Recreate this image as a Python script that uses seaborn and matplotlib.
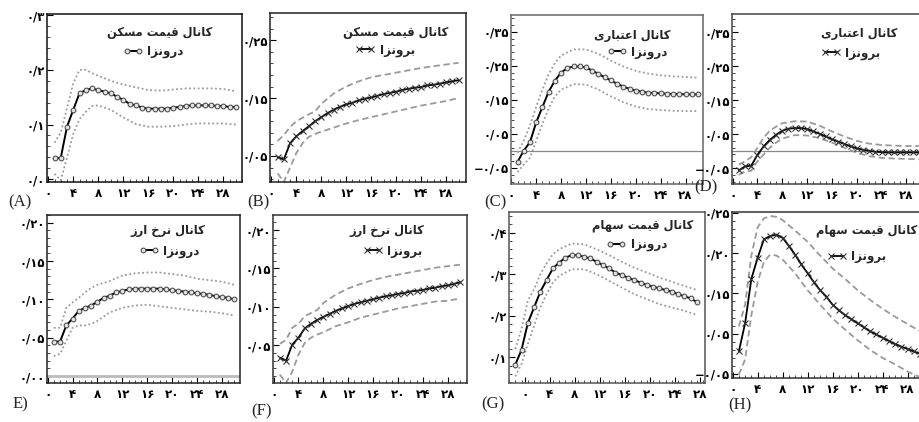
import numpy as np
import matplotlib
matplotlib.use("Agg")
import matplotlib.pyplot as plt
from matplotlib.ticker import MultipleLocator, AutoMinorLocator
import seaborn as sns

# ---------------- data ----------------
horizons = list(range(1, 31))
band_h = [1, 2, 3, 4, 5, 6, 7, 8, 10, 12, 14, 16, 18, 20, 22, 24, 26, 28, 30]

a_center = [0.039, 0.039, 0.096, 0.127, 0.157, 0.163, 0.166, 0.163, 0.160, 0.157, 0.151, 0.145, 0.138, 0.135, 0.131,
            0.129, 0.129, 0.129, 0.129, 0.131, 0.132, 0.134, 0.135, 0.135, 0.135, 0.135, 0.134, 0.134, 0.132, 0.132]
a_upper = [0.067, 0.085, 0.130, 0.175, 0.200, 0.200, 0.194, 0.189, 0.180, 0.173, 0.168, 0.163, 0.162, 0.164, 0.166,
           0.166, 0.166, 0.165, 0.161]
a_lower = [0.010, -0.002, 0.040, 0.083, 0.110, 0.123, 0.134, 0.135, 0.127, 0.113, 0.101, 0.096, 0.096, 0.097, 0.100,
           0.102, 0.102, 0.102, 0.100]

b_center = [0.048, 0.044, 0.072, 0.084, 0.093, 0.101, 0.110, 0.117, 0.124, 0.130, 0.135, 0.139, 0.142, 0.146, 0.149,
            0.151, 0.154, 0.157, 0.159, 0.161, 0.164, 0.166, 0.168, 0.169, 0.172, 0.173, 0.175, 0.177, 0.179, 0.181]
b_upper = [0.076, 0.086, 0.100, 0.110, 0.116, 0.122, 0.127, 0.140, 0.158, 0.170, 0.179, 0.186, 0.190, 0.194, 0.198,
           0.202, 0.205, 0.208, 0.211]
b_lower = [0.020, 0.005, 0.030, 0.055, 0.072, 0.083, 0.088, 0.092, 0.099, 0.106, 0.112, 0.117, 0.122, 0.127, 0.132,
           0.137, 0.141, 0.145, 0.150]

c_center = [-0.032, 0.001, 0.026, 0.084, 0.129, 0.174, 0.206, 0.230, 0.243, 0.248, 0.248, 0.245, 0.236, 0.226, 0.216,
            0.207, 0.197, 0.189, 0.182, 0.177, 0.174, 0.171, 0.170, 0.169, 0.168, 0.167, 0.167, 0.166, 0.166, 0.166]
c_upper = [-0.005, 0.030, 0.075, 0.130, 0.180, 0.225, 0.258, 0.280, 0.298, 0.298, 0.285, 0.265, 0.248, 0.235, 0.227,
           0.222, 0.219, 0.217, 0.215]
c_lower = [-0.062, -0.040, -0.020, 0.030, 0.080, 0.125, 0.160, 0.180, 0.196, 0.195, 0.180, 0.160, 0.143, 0.130, 0.123,
           0.120, 0.118, 0.117, 0.117]

d_center = [-0.057, -0.045, -0.043, -0.011, 0.014, 0.033, 0.048, 0.060, 0.066, 0.068, 0.068, 0.065, 0.058, 0.051, 0.043,
            0.035, 0.028, 0.021, 0.014, 0.008, 0.004, 0.001, -0.002, -0.003, -0.004, -0.004, -0.004, -0.004, -0.004, -0.004]
d_upper = [-0.040, -0.030, -0.018, 0.010, 0.040, 0.060, 0.072, 0.082, 0.088, 0.087, 0.075, 0.058, 0.043, 0.030, 0.022,
           0.018, 0.016, 0.015, 0.015]
d_lower = [-0.070, -0.060, -0.058, -0.030, -0.010, 0.010, 0.025, 0.037, 0.047, 0.046, 0.038, 0.025, 0.010, -0.005, -0.015,
           -0.020, -0.022, -0.023, -0.024]

e_center = [0.045, 0.045, 0.066, 0.075, 0.085, 0.089, 0.092, 0.097, 0.102, 0.105, 0.109, 0.111, 0.113, 0.114, 0.114,
            0.114, 0.114, 0.114, 0.113, 0.112, 0.111, 0.110, 0.109, 0.108, 0.107, 0.106, 0.104, 0.103, 0.102, 0.100]
e_upper = [0.063, 0.063, 0.089, 0.096, 0.102, 0.109, 0.115, 0.119, 0.124, 0.131, 0.134, 0.135, 0.135, 0.133, 0.131,
           0.127, 0.125, 0.123, 0.119]
e_lower = [0.026, 0.029, 0.046, 0.063, 0.066, 0.066, 0.068, 0.072, 0.083, 0.089, 0.092, 0.093, 0.091, 0.089, 0.087,
           0.085, 0.084, 0.082, 0.079]

f_center = [0.034, 0.030, 0.051, 0.060, 0.072, 0.078, 0.083, 0.087, 0.091, 0.095, 0.098, 0.101, 0.104, 0.106, 0.108,
            0.110, 0.112, 0.114, 0.115, 0.117, 0.118, 0.120, 0.121, 0.122, 0.124, 0.125, 0.127, 0.128, 0.130, 0.132]
f_upper = [0.052, 0.057, 0.073, 0.078, 0.088, 0.092, 0.096, 0.105, 0.116, 0.124, 0.130, 0.135, 0.139, 0.142, 0.145,
           0.148, 0.151, 0.153, 0.155]
f_lower = [0.012, 0.001, 0.016, 0.038, 0.053, 0.060, 0.064, 0.067, 0.075, 0.080, 0.086, 0.090, 0.094, 0.098, 0.101,
           0.104, 0.107, 0.108, 0.111]

g_center = [0.082, 0.118, 0.182, 0.220, 0.258, 0.286, 0.314, 0.328, 0.340, 0.346, 0.346, 0.342, 0.338, 0.330, 0.322,
            0.314, 0.304, 0.298, 0.292, 0.286, 0.280, 0.274, 0.270, 0.266, 0.262, 0.258, 0.252, 0.247, 0.242, 0.233]
g_upper = [0.120, 0.168, 0.236, 0.264, 0.300, 0.326, 0.348, 0.360, 0.374, 0.372, 0.360, 0.346, 0.330, 0.316, 0.304,
           0.292, 0.282, 0.272, 0.262]
g_lower = [0.054, 0.084, 0.132, 0.176, 0.220, 0.252, 0.280, 0.296, 0.312, 0.312, 0.300, 0.284, 0.268, 0.252, 0.240,
           0.228, 0.220, 0.212, 0.202]

h_center = [0.078, 0.113, 0.168, 0.194, 0.217, 0.221, 0.223, 0.219, 0.209, 0.198, 0.186, 0.175, 0.164, 0.154, 0.146,
            0.136, 0.129, 0.123, 0.118, 0.113, 0.108, 0.103, 0.099, 0.095, 0.091, 0.087, 0.084, 0.081, 0.078, 0.075]
h_upper = [0.109, 0.136, 0.197, 0.232, 0.243, 0.246, 0.245, 0.241, 0.228, 0.214, 0.197, 0.181, 0.168, 0.154, 0.142,
           0.131, 0.121, 0.112, 0.103]
h_lower = [0.049, 0.068, 0.123, 0.164, 0.189, 0.198, 0.197, 0.192, 0.175, 0.154, 0.136, 0.119, 0.105, 0.092, 0.080,
           0.070, 0.062, 0.053, 0.046]

channels = ["کانال قیمت مسکن", "کانال قیمت مسکن", "کانال اعتباری", "کانال اعتباری",
            "کانال نرخ ارز", "کانال نرخ ارز", "کانال قیمت سهام", "کانال قیمت سهام"]
shock_types = ["درونزا", "برونزا", "درونزا", "برونزا", "درونزا", "برونزا", "درونزا", "برونزا"]
panel_letters = ["(A)", "(B)", "(C)", "(D)", "E)", "(F)", "(G)", "(H)"]

x_tick_values = [0, 4, 8, 12, 16, 20, 24, 28]
x_tick_labels = ["۰", "۴", "۸", "۱۲", "۱۶", "۲۰", "۲۴", "۲۸"]

y_ticks = [
    ([0.0, 0.1, 0.2, 0.3], ["۰/۰", "۰/۱", "۰/۲", "۰/۳"]),
    ([0.05, 0.15, 0.25], ["۰/۰۵", "۰/۱۵", "۰/۲۵"]),
    ([-0.05, 0.05, 0.15, 0.25, 0.35], ["−۰/۰۵", "۰/۰۵", "۰/۱۵", "۰/۲۵", "۰/۳۵"]),
    ([-0.05, 0.05, 0.15, 0.25, 0.35], ["−۰/۰۵", "۰/۰۵", "۰/۱۵", "۰/۲۵", "۰/۳۵"]),
    ([0.0, 0.05, 0.10, 0.15, 0.20], ["۰/۰۰", "۰/۰۵", "۰/۱۰", "۰/۱۵", "۰/۲۰"]),
    ([0.05, 0.10, 0.15, 0.20], ["۰/۰۵", "۰/۱۰", "۰/۱۵", "۰/۲۰"]),
    ([0.1, 0.2, 0.3, 0.4], ["۰/۱", "۰/۲", "۰/۳", "۰/۴"]),
    ([0.05, 0.10, 0.15, 0.20, 0.25], ["−۰/۰۵", "۰/۰۵", "۰/۱۵", "۰/۲۰", "۰/۲۵"]),
]

centers = [a_center, b_center, c_center, d_center, e_center, f_center, g_center, h_center]
uppers = [a_upper, b_upper, c_upper, d_upper, e_upper, f_upper, g_upper, h_upper]
lowers = [a_lower, b_lower, c_lower, d_lower, e_lower, f_lower, g_lower, h_lower]

# ---------------- Persian shaping (presentation forms) ----------------
FORMS = {
    'ا': ('\uFE8D', '\uFE8E'), 'د': ('\uFEA9', '\uFEAA'), 'ر': ('\uFEAD', '\uFEAE'),
    'ز': ('\uFEAF', '\uFEB0'), 'و': ('\uFEED', '\uFEEE'),
    'ب': ('\uFE8F', '\uFE90', '\uFE91', '\uFE92'), 'ت': ('\uFE95', '\uFE96', '\uFE97', '\uFE98'),
    'خ': ('\uFEA5', '\uFEA6', '\uFEA7', '\uFEA8'), 'س': ('\uFEB1', '\uFEB2', '\uFEB3', '\uFEB4'),
    'ع': ('\uFEC9', '\uFECA', '\uFECB', '\uFECC'), 'ق': ('\uFED5', '\uFED6', '\uFED7', '\uFED8'),
    'ل': ('\uFEDD', '\uFEDE', '\uFEDF', '\uFEE0'), 'م': ('\uFEE1', '\uFEE2', '\uFEE3', '\uFEE4'),
    'ن': ('\uFEE5', '\uFEE6', '\uFEE7', '\uFEE8'), 'ه': ('\uFEE9', '\uFEEA', '\uFEEB', '\uFEEC'),
    'ی': ('\uFBFC', '\uFBFD', '\uFBFE', '\uFBFF'), 'ک': ('\uFB8E', '\uFB8F', '\uFB90', '\uFB91'),
}


def shape(text):
    chars = list(text)
    out = []
    dual = lambda c: c in FORMS and len(FORMS[c]) == 4
    for i, c in enumerate(chars):
        if c not in FORMS:
            out.append(c)
            continue
        prev = chars[i - 1] if i > 0 else None
        nxt = chars[i + 1] if i + 1 < len(chars) else None
        cp = prev is not None and dual(prev)
        cn = nxt is not None and nxt in FORMS and dual(c)
        f = FORMS[c]
        if cp and cn:
            g = f[3]
        elif cp:
            g = f[1]
        elif cn:
            g = f[2]
        else:
            g = f[0]
        out.append(g)
    return ''.join(reversed(out))


# ---------------- layout (pixel boxes: left, right, top, bottom) ----------------
W, H = 919, 422
boxes = [(47, 242, 14, 182), (270, 466, 13, 182), (511, 703, 15, 184), (732, 925, 14, 184),
         (47, 240, 215, 383), (273, 467, 215, 383), (509, 705, 212, 383), (732, 925, 212, 378)]
xlims = [(-0.2, 31.0), (-0.22, 31.2), (-0.05, 30.8), (-0.1, 31.0),
         (-0.1, 30.9), (-0.1, 31.1), (0.0, 31.3), (-0.1, 30.8)]
ylims = [(-0.005, 0.302), (0.005, 0.297), (-0.097, 0.399), (-0.097, 0.404),
         (-0.009, 0.210), (0.001, 0.2196), (0.038, 0.45), (0.045, 0.251)]
tick_shift = [0, 0, 0, 0, 0, 0, 2.5, 0]
title_pos = [(0.85, 0.89), (0.91, 0.885), (0.83, 0.88), (0.855, 0.885),
             (0.82, 0.905), (0.78, 0.905), (0.94, 0.92), (0.96, 0.89)]
legend_pos = [(0.70, 0.775), (0.74, 0.78), (0.815, 0.78), (0.77, 0.77),
              (0.79, 0.786), (0.77, 0.786), (0.806, 0.81), (0.80, 0.73)]
letter_pos = [(20, 202), (258, 202), (495, 202), (706, 187), (20, 404), (262, 411), (493, 404), (740, 405)]
zero_line = [None, None, 'thin', 'thin', 'thick', None, None, None]
spine_col = ['#111111', '#222222', '#666666', '#444444', '#222222', '#333333', '#555555', '#333333']

sns.set_style("ticks")
plt.rcParams['font.family'] = ['DejaVu Sans']

fig = plt.figure(figsize=(W / 100, H / 100), dpi=100)

for i in range(8):
    l, r, t, b = boxes[i]
    ax = fig.add_axes([l / W, 1 - b / H, (r - l) / W, (b - t) / H])
    ax.patch.set_alpha(0)
    endo = shock_types[i] == "درونزا"
    band_ls = (0, (1, 1.4)) if endo else (0, (3.5, 2))
    band_col = '#9a9a9a'
    if zero_line[i] == 'thin':
        ax.axhline(0, color='#888888', lw=0.9, zorder=1)
    elif zero_line[i] == 'thick':
        ax.axhline(0, color='#bbbbbb', lw=2.0, zorder=1)
    sns.lineplot(x=band_h, y=uppers[i], ax=ax, color=band_col, lw=1.3, linestyle=band_ls)
    sns.lineplot(x=band_h, y=lowers[i], ax=ax, color=band_col, lw=1.3, linestyle=band_ls)
    if endo:
        sns.lineplot(x=horizons, y=centers[i], ax=ax, color='black', lw=1.4, marker='o',
                     markersize=3.4, markerfacecolor='#e4e4e4', markeredgecolor='#505050',
                     markeredgewidth=0.8, label=shape(shock_types[i]))
    else:
        sns.lineplot(x=horizons, y=centers[i], ax=ax, color='black', lw=1.3, marker='x',
                     markersize=3.8, markeredgecolor='#333333', markeredgewidth=0.8,
                     label=shape(shock_types[i]))
    ax.set_xlim(*xlims[i])
    ax.set_ylim(*ylims[i])
    ax.set_xticks([v + tick_shift[i] for v in x_tick_values], x_tick_labels, fontweight='bold', fontsize=8.6)
    ax.set_yticks(y_ticks[i][0], y_ticks[i][1], fontweight='bold', fontsize=8.4)
    ax.xaxis.set_minor_locator(MultipleLocator(1))
    ax.yaxis.set_minor_locator(AutoMinorLocator(5))
    ax.tick_params(axis='x', which='major', direction='in', length=4, width=0.8, pad=3.5,
                   top=False, right=False, colors='black')
    ax.tick_params(axis='y', which='major', direction='in', length=4, width=0.8, pad=1.5,
                   top=False, right=False, colors='black')
    ax.tick_params(axis='both', which='minor', direction='in', length=2, width=0.6, top=False, right=False)
    for sp in ax.spines.values():
        sp.set_color(spine_col[i])
        sp.set_linewidth(1.1)
        sp.set_visible(True)
    ax.set_xlabel('')
    ax.set_ylabel('')
    ax.text(title_pos[i][0], title_pos[i][1], shape(channels[i]), transform=ax.transAxes,
            ha='right', va='center', fontsize=8.3, fontweight='bold')
    ax.legend(loc='center right', bbox_to_anchor=legend_pos[i], frameon=False, borderaxespad=0,
              borderpad=0, handlelength=1.6, handletextpad=0.4, numpoints=2,
              prop={'weight': 'bold', 'size': 8.6})
    fig.text(letter_pos[i][0] / W, 1 - letter_pos[i][1] / H, panel_letters[i],
             ha='center', va='center', fontsize=12, family='Liberation Serif')

fig.savefig('out.png', dpi=100)
